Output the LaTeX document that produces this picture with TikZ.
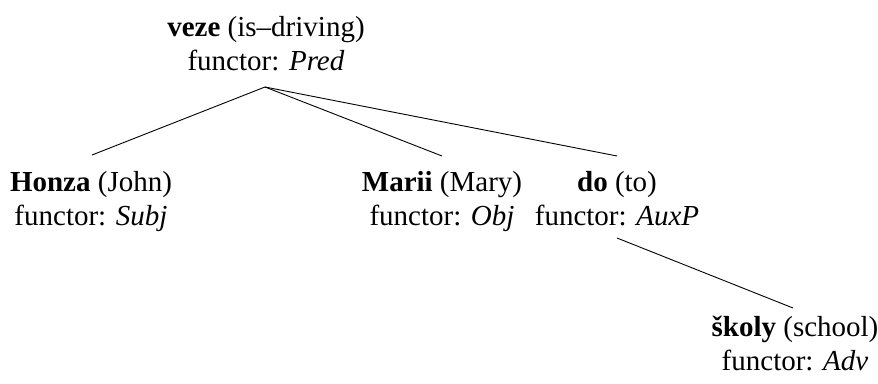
\documentclass[tikz,border=0pt]{standalone}
\usepackage{fontspec}
\setmainfont{Liberation Serif}
\usetikzlibrary{calc}
\begin{document}
\begin{tikzpicture}[x=1pt,y=-1pt,
  tnode/.style={align=center,anchor=base,inner sep=0pt,
    font=\fontsize{29}{34}\selectfont},
  edge/.style={line width=0.9pt}]
\useasboundingbox (0,0) rectangle (878,383);

% tree nodes; the base anchor sits on the baseline of the last line
\node[tnode] (veze)  at (266,70)  {\textbf{veze} (is--driving)\\functor: \textit{Pred}};
\node[tnode] (honza) at (91,225)  {\textbf{Honza} (John)\\functor: \textit{Subj}};
\node[tnode] (marii) at (442,225) {\textbf{Marii} (Mary)\\functor: \textit{Obj}};
\node[tnode] (do)    at (617,225) {\textbf{do} (to)\\functor: \textit{AuxP}};
\node[tnode] (skoly) at (795,370) {\textbf{školy} (school)\\functor: \textit{Adv}};

% attachment points below parents and above children
\coordinate (vezeB)  at ($(veze.base)+(-1,17)$);
\coordinate (doB)    at ($(do.base)+(0,13)$);
\coordinate (honzaT) at ($(honza.base)+(1,-70)$);
\coordinate (mariiT) at ($(marii.base)+(0,-69)$);
\coordinate (doT)    at ($(do.base)+(0,-69)$);
\coordinate (skolyT) at ($(skoly.base)+(-2,-62)$);

\draw[edge] (vezeB) -- (honzaT);
\draw[edge] (vezeB) -- (mariiT);
\draw[edge] (vezeB) -- (doT);
\draw[edge] (doB) -- (skolyT);
\end{tikzpicture}
\end{document}
